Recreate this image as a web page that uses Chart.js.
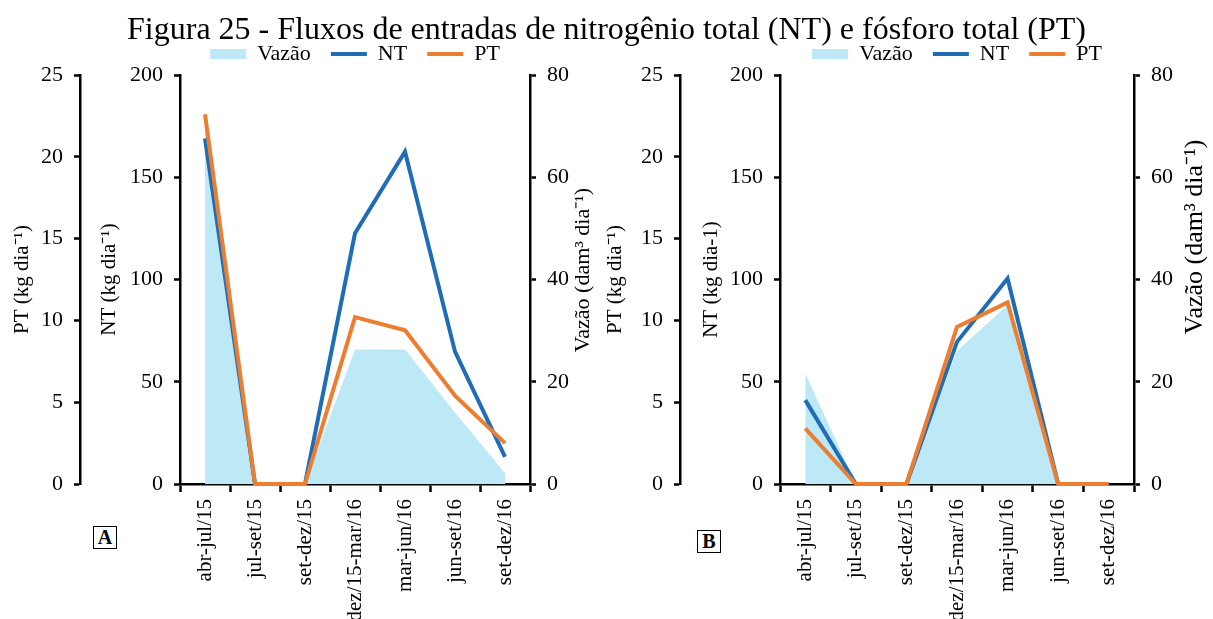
<!DOCTYPE html>
<html lang="pt-BR">
<head>
<meta charset="utf-8">
<title>Figura 25 - Fluxos de entradas de NT e PT</title>
<script src="https://cdn.jsdelivr.net/npm/chart.js@4.4.1/dist/chart.umd.min.js"></script>
<style>
  html, body { margin: 0; padding: 0; background: #fff; overflow: hidden; }
  #wrap { position: relative; width: 1213px; height: 619px; font-family: "Liberation Serif", "Times New Roman", serif; }
  #titulo { position: absolute; left: 0; top: 12px; width: 1213px; text-align: center; font-size: 32px; line-height: 32px; color: #000; z-index: 2; white-space: nowrap; }
  canvas { position: absolute; top: 0; }
  #graficoA { left: 0; }
  #graficoB { left: 600px; }
  .painel { position: absolute; border: 1px solid #000; font-weight: bold; font-size: 20px; width: 22px; height: 21px; line-height: 21px; text-align: center; background: #fff; }
</style>
</head>
<body>
<div id="wrap">
  <div id="titulo">Figura 25 - Fluxos de entradas de nitrogênio total (NT) e fósforo total (PT)</div>
  <canvas id="graficoA" width="600" height="619"></canvas>
  <canvas id="graficoB" width="613" height="619"></canvas>
  <div class="painel" style="left:93px; top:526px;">A</div>
  <div class="painel" style="left:697px; top:530px;">B</div>
</div>
<script>
// períodos de amostragem (eixo x)
const periodos = ['abr-jul/15', 'jul-set/15', 'set-dez/15', 'dez/15-mar/16', 'mar-jun/16', 'jun-set/16', 'set-dez/16'];

// painel A
const vazaoA = [72, 0, 0, 26.3, 26.3, 14, 2.1];
const ntA    = [169, 0, 0, 122.6, 162.5, 64.7, 13.3];
const ptA    = [22.6, 0, 0, 10.2, 9.4, 5.4, 2.5];

// painel B
const vazaoB = [21.6, 0, 0, 26, 35, 0, 0];
const ntB    = [41, 0, 0, 69.5, 100.5, 0, 0];
const ptB    = [3.4, 0, 0, 9.6, 11.1, 0, 0];

// marcas dos eixos
const ticksPT    = [0, 5, 10, 15, 20, 25];
const ticksNT    = [0, 50, 100, 150, 200];
const ticksVazao = [0, 20, 40, 60, 80];

const corVazao = '#bde8f6';
const corNT = '#1f6db5';
const corPT = '#ed7d31';
const fonte = '"Liberation Serif", "Times New Roman", serif';

Chart.defaults.font.family = fonte;
Chart.defaults.color = '#000';

// título do eixo da vazão, escrito de baixo para cima como os demais
const tituloVazao = {
  id: 'tituloVazao',
  afterDraw(chart, args, opts) {
    const s = chart.scales.yV;
    const ctx = chart.ctx;
    ctx.save();
    ctx.translate(s.right - opts.recuo, opts.y);
    ctx.rotate(-Math.PI / 2);
    ctx.font = opts.tamanho + 'px ' + fonte;
    ctx.fillStyle = '#000';
    ctx.textAlign = 'center';
    ctx.textBaseline = 'middle';
    ctx.fillText(opts.texto, 0, 0);
    ctx.restore();
  }
};

function eixoY(pos, marcas, largura, peso, titulo, recuoTitulo) {
  return {
    position: pos,
    weight: peso,
    min: marcas[0],
    max: marcas[marcas.length - 1],
    afterBuildTicks: s => { s.ticks = marcas.map(v => ({ value: v })); },
    afterFit: s => { s.width = largura; },
    border: { display: true, color: '#000', width: 2.5 },
    grid: { drawOnChartArea: false, drawTicks: true, tickLength: 6, tickWidth: 2.5, tickColor: '#000' },
    ticks: { padding: 11, font: { size: 22 }, color: '#000' },
    title: titulo
      ? { display: true, text: titulo, color: '#000', font: { size: 21 }, padding: { top: recuoTitulo, bottom: 0 } }
      : { display: false }
  };
}

function grafico(id, vazao, nt, pt, cfg) {
  return new Chart(document.getElementById(id), {
    type: 'line',
    data: {
      labels: periodos,
      datasets: [
        { label: 'Vazão', data: vazao, yAxisID: 'yV', fill: 'origin', backgroundColor: corVazao, borderColor: corVazao,
          borderWidth: 0, pointRadius: 0, pointStyle: 'rect', tension: 0, order: 3 },
        { label: 'NT', data: nt, yAxisID: 'yNT', fill: false, borderColor: corNT, backgroundColor: corNT,
          borderWidth: 4, pointRadius: 0, pointStyle: 'line', tension: 0, clip: false, order: 2 },
        { label: 'PT', data: pt, yAxisID: 'yPT', fill: false, borderColor: corPT, backgroundColor: corPT,
          borderWidth: 4, pointRadius: 0, pointStyle: 'line', tension: 0, clip: false, order: 1 }
      ]
    },
    options: {
      responsive: false,
      animation: false,
      devicePixelRatio: 1,
      layout: { padding: { top: 23, left: 0, right: 0, bottom: 0 } },
      plugins: {
        legend: {
          position: 'top',
          fullSize: false,
          labels: {
            usePointStyle: true, pointStyleWidth: 36, boxHeight: 10, padding: 20,
            font: { size: 22 }, color: '#000',
            sort: (a, b) => a.datasetIndex - b.datasetIndex
          }
        },
        tooltip: { enabled: false },
        tituloVazao: cfg.vazaoTitulo
      },
      scales: {
        x: {
          offset: true,
          afterFit: s => { s.height = 135; },
          border: { display: true, color: '#000', width: 2.5 },
          grid: { offset: true, drawOnChartArea: false, tickLength: 8, tickWidth: 2.5, tickColor: '#000' },
          ticks: { minRotation: 90, maxRotation: 90, autoSkip: false, padding: 7, font: { size: 21 }, color: '#000' }
        },
        yPT: eixoY('left', ticksPT, 80, 2, cfg.tituloPT, cfg.recuoPT),
        yNT: eixoY('left', ticksNT, 100, 1, cfg.tituloNT, cfg.recuoNT),
        yV: eixoY('right', ticksVazao, cfg.larguraDir, 1, null, 0)
      }
    },
    plugins: [tituloVazao]
  });
}

grafico('graficoA', vazaoA, ntA, ptA, {
  tituloPT: 'PT (kg dia⁻¹)', recuoPT: 10,
  tituloNT: 'NT (kg dia⁻¹)', recuoNT: 17,
  larguraDir: 70,
  vazaoTitulo: { texto: 'Vazão (dam³ dia⁻¹)', recuo: 17, y: 270, tamanho: 22 }
});

grafico('graficoB', vazaoB, ntB, ptB, {
  tituloPT: 'PT (kg dia⁻¹)', recuoPT: 3,
  tituloNT: 'NT (kg dia-1)', recuoNT: 19,
  larguraDir: 79,
  vazaoTitulo: { texto: 'Vazão (dam³ dia⁻¹)', recuo: 18, y: 237, tamanho: 26 }
});
</script>
</body>
</html>
